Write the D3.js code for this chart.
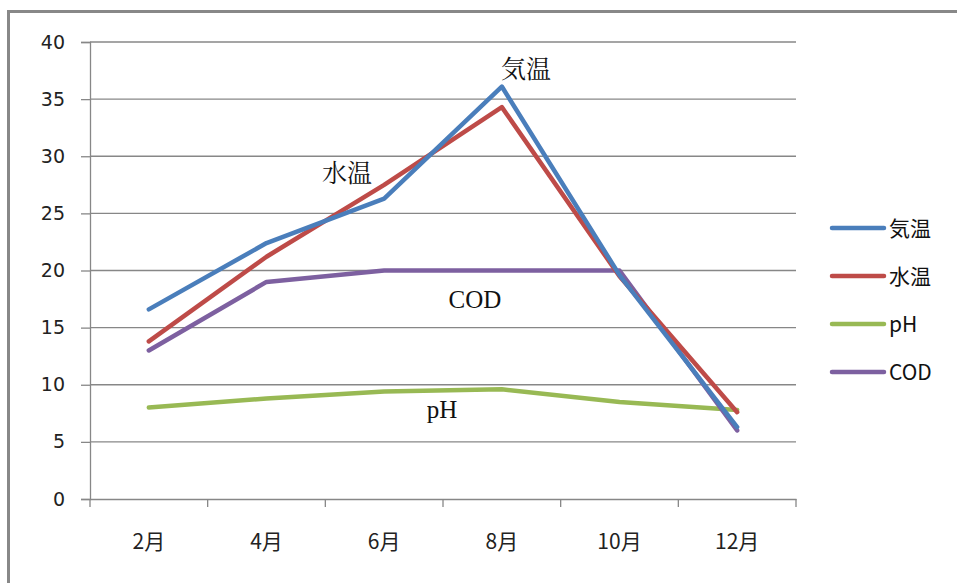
<!DOCTYPE html>
<html><head><meta charset="utf-8">
<script src="https://cdn.jsdelivr.net/npm/d3@7"></script>
<style>body{margin:0;background:#fff}svg{display:block}</style>
</head><body>
<svg id="c" width="957" height="583"></svg>
<script>
const categories = ["2月","4月","6月","8月","10月","12月"];
const kion  = [16.6, 22.4, 26.3, 36.1, 19.6, 6.3];
const suion = [13.8, 21.2, 27.5, 34.3, 19.5, 7.6];
const ph    = [8.0, 8.8, 9.4, 9.6, 8.5, 7.8];
const cod   = [13.0, 19.0, 20.0, 20.0, 20.0, 6.0];
const seriesNames = ["気温","水温","pH","COD"];
const seriesColors = ["#4a7ebb","#be4b48","#98b954","#7d60a0"];
const yTicks = [0,5,10,15,20,25,30,35,40];

const svg = d3.select("#c");
const L = 90, R = 796, T = 42, B = 499;
const x = d3.scaleBand().domain(categories).range([L, R]);
const y = d3.scaleLinear().domain([0, 40]).range([B, T]);

// outer frame
svg.append("rect").attr("x", 8.5).attr("y", 11.5).attr("width", 1000).attr("height", 700)
  .attr("fill", "none").attr("stroke", "#888").attr("stroke-width", 3);

// gridlines
svg.append("g").selectAll("line").data(yTicks.filter(d => d > 0)).join("line")
  .attr("x1", L).attr("x2", R).attr("y1", d => y(d)).attr("y2", d => y(d))
  .attr("stroke", "#878787").attr("stroke-width", 1.3);

// y axis
const ya = svg.append("g").attr("transform", `translate(${L},0)`)
  .call(d3.axisLeft(y).tickValues(yTicks).tickSize(9).tickPadding(16));
ya.select(".domain").attr("stroke", "#878787").attr("stroke-width", 1.3);
ya.selectAll(".tick line").attr("stroke", "#878787").attr("stroke-width", 1.3);
ya.selectAll("text").attr("font-family", "'DejaVu Sans', sans-serif").attr("font-size", 19).attr("fill", "#222");

// x axis
const xa = svg.append("g").attr("transform", `translate(0,${B})`)
  .call(d3.axisBottom(x).tickSize(0).tickPadding(35));
xa.select(".domain").attr("stroke", "#878787").attr("stroke-width", 1.5);
xa.selectAll("text").attr("font-family", "'Noto Sans CJK JP', sans-serif").attr("font-size", 21).attr("fill", "#222");
svg.append("g").selectAll("line").data(d3.range(categories.length + 1)).join("line")
  .attr("x1", i => L + i * x.step()).attr("x2", i => L + i * x.step())
  .attr("y1", B).attr("y2", B + 8).attr("stroke", "#878787").attr("stroke-width", 1.3);

// lines
const data = [kion, suion, ph, cod];
const line = d3.line().x((d, i) => x(categories[i]) + x.bandwidth() / 2).y(d => y(d));
[2, 3, 1, 0].forEach(k => {
  svg.append("path").datum(data[k]).attr("d", line).attr("fill", "none")
    .attr("stroke", seriesColors[k]).attr("stroke-width", 4.5)
    .attr("stroke-linejoin", "round").attr("stroke-linecap", "round");
});

// in-chart labels
const labels = [
  {t: "気温", x: 526, y: 78, f: "'Noto Serif CJK JP','Noto Sans CJK JP', serif"},
  {t: "水温", x: 347, y: 182, f: "'Noto Serif CJK JP','Noto Sans CJK JP', serif"},
  {t: "COD", x: 475, y: 308, f: "'Liberation Serif', serif"},
  {t: "pH",  x: 442, y: 418, f: "'Liberation Serif', serif"}
];
svg.append("g").selectAll("text").data(labels).join("text")
  .attr("x", d => d.x).attr("y", d => d.y).attr("text-anchor", "middle")
  .attr("font-family", d => d.f).attr("font-size", 25).attr("fill", "#111").text(d => d.t);

// legend
const lg = svg.append("g");
seriesNames.forEach((n, i) => {
  const yy = 228 + i * 48;
  lg.append("line").attr("x1", 832).attr("x2", 884).attr("y1", yy).attr("y2", yy)
    .attr("stroke", seriesColors[i]).attr("stroke-width", 4.5).attr("stroke-linecap", "round");
  lg.append("text").attr("x", 889).attr("y", yy + 8)
    .attr("font-family", "'Noto Sans CJK JP', sans-serif").attr("font-size", 21).attr("fill", "#111").text(n);
});
</script>
</body></html>
